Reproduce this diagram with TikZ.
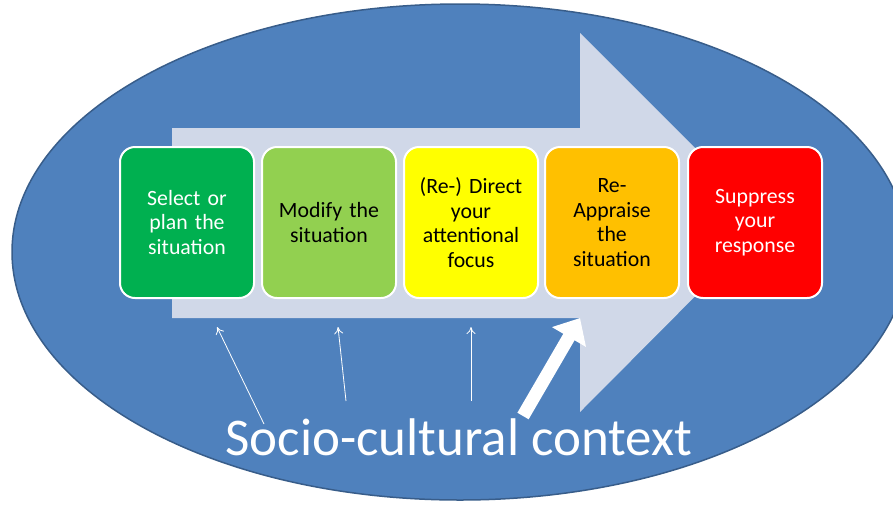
\documentclass[tikz,border=0pt]{standalone}
\usepackage{fontspec}
\setmainfont{Carlito}
\usetikzlibrary{arrows.meta}
\definecolor{ctxblue}{HTML}{4F81BD}
\definecolor{ctxedge}{HTML}{385D8A}
\definecolor{flowgrey}{HTML}{D0D8E8}
\definecolor{stgA}{HTML}{00B050}
\definecolor{stgB}{HTML}{92D050}
\definecolor{stgC}{HTML}{FFFF00}
\definecolor{stgD}{HTML}{FFC000}
\definecolor{stgE}{HTML}{FF0000}
\begin{document}
\begin{tikzpicture}[x=1pt,y=-1pt,
  stage/.style={draw=white, line width=2pt, rounded corners=15pt,
    minimum width=134pt, minimum height=151pt, inner sep=0pt,
    align=center, text width=128pt, font=\fontsize{21.8}{24.6}\selectfont},
  nudge/.style={draw=white, line width=0.8pt, -{To[length=7pt,width=9pt]}},
  push/.style={draw=white, line width=13pt, -{Triangle[length=22pt,width=38pt]}}]
\clip (0,0) rectangle (893,504);
% surrounding context
\fill[ctxblue, draw=ctxedge, line width=1.5pt] (460,252) ellipse [x radius=448, y radius=248];
% process direction
\fill[flowgrey] (172,128) -- (580,128) -- (580,33) -- (769,222) -- (580,412)
  -- (580,318) -- (172,318) -- cycle;
% the five stages
\node[stage, fill=stgA, text=white] (s1) at (187,222.5) {Select or\\plan the\\situation};
\node[stage, fill=stgB, text=black] (s2) at (329,222.5) {Modify the\\situation};
\node[stage, fill=stgC, text=black] (s3) at (471,222.5) {(Re-) Direct\\your\\attentional\\focus};
\node[stage, fill=stgD, text=black] (s4) at (612,222.5) {Re-\\Appraise\\the\\situation};
\node[stage, fill=stgE, text=white] (s5) at (755,222.5) {Suppress\\your\\response};
% context label and its influences
\node[text=white, font=\fontsize{53}{60}\selectfont, anchor=base] (ctx) at (459,455) {Socio-cultural context};
\coordinate (t1) at (264,424);
\coordinate (h1) at (217,327);
\coordinate (t2) at (346,401);
\coordinate (h2) at (338,327);
\coordinate (t3) at (471,401);
\coordinate (h3) at (471,327);
\coordinate (t4) at (523,416);
\coordinate (h4) at (580,318);
\draw[nudge] (t1) -- (h1);
\draw[nudge] (t2) -- (h2);
\draw[nudge] (t3) -- (h3);
\draw[push] (t4) -- (h4);
\end{tikzpicture}
\end{document}
